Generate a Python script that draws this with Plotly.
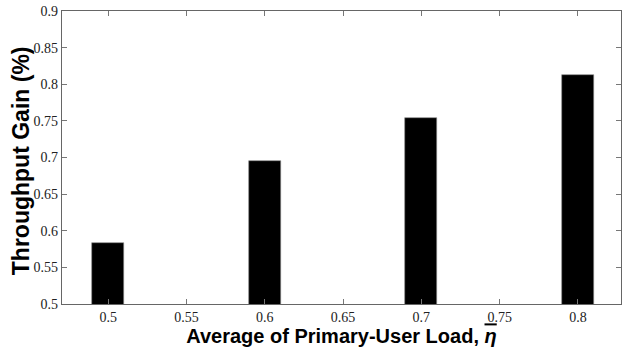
import plotly.graph_objects as go

loads = [0.5, 0.6, 0.7, 0.8]
gains = [0.583, 0.6955, 0.7535, 0.8125]
xtick_vals = [0.5, 0.55, 0.6, 0.65, 0.7, 0.75, 0.8]
xtick_text = ["0.5", "0.55", "0.6", "0.65", "0.7", "0.75", "0.8"]
ytick_vals = [0.5, 0.55, 0.6, 0.65, 0.7, 0.75, 0.8, 0.85, 0.9]
ytick_text = ["0.5", "0.55", "0.6", "0.65", "0.7", "0.75", "0.8", "0.85", "0.9"]

SERIF = "Liberation Serif, Times New Roman, serif"

fig = go.Figure()
fig.add_trace(go.Bar(
    x=loads, y=gains, width=0.0205,
    marker=dict(color="black", line=dict(color="#888888", width=0.6)),
))

fig.update_layout(
    width=622, height=356,
    margin=dict(l=62, r=1, t=11, b=52),
    paper_bgcolor="white", plot_bgcolor="white",
    showlegend=False,
    bargap=0,
    font=dict(family=SERIF, size=14, color="#222222"),
)
axis_style = dict(
    showline=True, linecolor="#666666", linewidth=1.2, mirror="ticks",
    ticks="inside", ticklen=5, tickcolor="#777777", tickwidth=1,
    showgrid=False, zeroline=False,
    tickfont=dict(family=SERIF, size=14, color="#222222"),
)
fig.update_xaxes(
    range=[0.4705, 0.8275], tickvals=xtick_vals, ticktext=xtick_text,
    title=dict(text="<b>Average of Primary-User Load, <i><span style='text-decoration:overline'>η</span></i></b>",
               font=dict(family="Liberation Sans", size=20, color="black"),
               standoff=5),
    **axis_style,
)
fig.update_yaxes(
    range=[0.5, 0.9], tickvals=ytick_vals, ticktext=ytick_text,
    **axis_style,
)
fig.add_annotation(
    text="<b>Throughput Gain (%)</b>", textangle=-90,
    xref="paper", yref="paper", x=-0.072, y=0.49,
    xanchor="center", yanchor="middle", showarrow=False,
    font=dict(family="Liberation Sans", size=23, color="black"),
)
fig.write_html("out.html")
